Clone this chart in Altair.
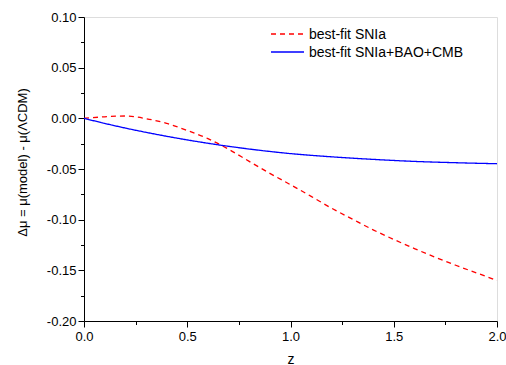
import altair as alt
import pandas as pd

z_red = [0.0, 0.1, 0.2, 0.3, 0.4, 0.5, 0.6, 0.7, 0.8, 0.9, 1.0, 1.1, 1.2, 1.3, 1.4, 1.5, 1.6, 1.7, 1.8, 1.9, 2.0]
dmu_red = [0.0, 0.0015, 0.0023, -0.0003, -0.0050, -0.0120, -0.0200, -0.0305, -0.0425, -0.0543, -0.0655,
           -0.0770, -0.0888, -0.0995, -0.1100, -0.1195, -0.1285, -0.1370, -0.1450, -0.1525, -0.1600]
z_blue = [0.0, 0.1, 0.2, 0.3, 0.4, 0.5, 0.6, 0.7, 0.8, 0.9, 1.0, 1.2, 1.4, 1.6, 1.8, 2.0]
dmu_blue = [0.0, -0.0050, -0.0096, -0.0138, -0.0177, -0.0213, -0.0246, -0.0276, -0.0303, -0.0327, -0.0348,
            -0.0380, -0.0405, -0.0425, -0.0438, -0.0448]
series_names = ["best-fit SNIa", "best-fit SNIa+BAO+CMB"]
series_colors = ["#ff0000", "#0000ff"]

df = pd.concat([
    pd.DataFrame({"z": z_red, "dmu": dmu_red, "series": series_names[0]}),
    pd.DataFrame({"z": z_blue, "dmu": dmu_blue, "series": series_names[1]}),
])

FONT = "Liberation Sans"

x_major = "abs(datum.value*2 - round(datum.value*2)) < 1e-6"
y_major = "abs(datum.value*20 - round(datum.value*20)) < 1e-6"

x_axis = alt.Axis(
    values=[i * 0.25 for i in range(9)],
    labelExpr=f"{x_major} ? format(datum.value, '.1f') : ''",
    tickSize={"condition": {"test": x_major, "value": 6}, "value": 3.5},
    title="z", titleFont=FONT, titleFontSize=14, titleFontWeight="normal", titleColor="black",
    titleY=42, titleBaseline="alphabetic",
    labelFont=FONT, labelFontSize=13, labelColor="black", labelPadding=3,
    domainColor="black", tickColor="black", grid=False, labelFlush=False,
)
y_axis = alt.Axis(
    values=[-0.2 + i * 0.025 for i in range(13)],
    labelExpr=f"{y_major} ? replace(format(datum.value, '.2f'), '\u2212', '-') : ''",
    tickSize={"condition": {"test": y_major, "value": 6}, "value": 3.5},
    title="\u0394\u03bc = \u03bc(model) - \u03bc(\u039bCDM)", titleFont=FONT, titleFontSize=13,
    titleFontWeight="normal", titleColor="black",
    titleX=-62, titleY=145, titleAngle=-90, titleAlign="center", titleBaseline="middle",
    labelFont=FONT, labelFontSize=13, labelColor="black", labelPadding=2,
    domainColor="black", tickColor="black", grid=False, labelFlush=False,
)

lines = alt.Chart(df).mark_line(strokeWidth=1.3, interpolate="monotone").encode(
    x=alt.X("z:Q", scale=alt.Scale(domain=[0, 2], nice=False), axis=x_axis),
    y=alt.Y("dmu:Q", scale=alt.Scale(domain=[-0.2, 0.1], nice=False), axis=y_axis),
    color=alt.Color("series:N", scale=alt.Scale(domain=series_names, range=series_colors), legend=None),
    strokeDash=alt.StrokeDash("series:N", scale=alt.Scale(domain=series_names, range=[[5, 4], [1, 0]]), legend=None),
)

# manual legend
leg = []
for i, (name, col) in enumerate(zip(series_names, series_colors)):
    yy = 17 + i * 18
    dash = [5, 4] if i == 0 else [1, 0]
    leg.append(alt.Chart(pd.DataFrame({"s": [name]})).mark_rule(color=col, strokeWidth=1.3, strokeDash=dash).encode(
        x=alt.value(187), x2=alt.value(220), y=alt.value(yy)))
    leg.append(alt.Chart(pd.DataFrame({"s": [name]})).mark_text(
        align="left", baseline="middle", font=FONT, fontSize=14, color="black").encode(
        x=alt.value(225), y=alt.value(yy + 1), text="s:N"))

chart = alt.layer(lines, *leg).properties(
    width=413, height=304,
    autosize=alt.AutoSizeParams(type="none"),
    padding={"left": 84, "top": 17, "right": 9, "bottom": 44},
).configure_view(stroke=None).configure(background="white")

chart.save("out.html", embed_options={"renderer": "svg", "actions": False})
